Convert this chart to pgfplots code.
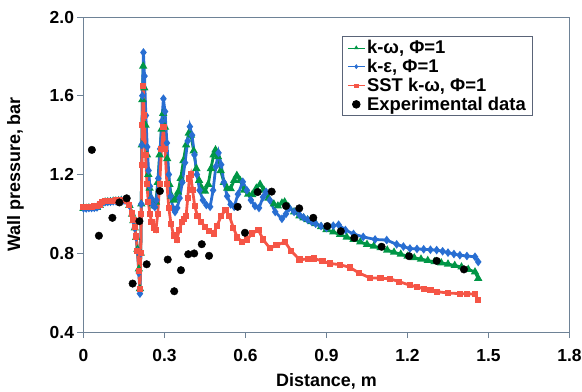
\documentclass[border=0pt]{standalone}
\usepackage{pgfplots}
\pgfplotsset{compat=1.18}
\usepackage{fontspec}
\setmainfont{Liberation Sans}
\definecolor{kwgreen}{RGB}{0,150,70}
\definecolor{kebblue}{RGB}{40,110,210}
\definecolor{sstred}{RGB}{245,85,70}
\definecolor{axc}{RGB}{110,130,150}
\definecolor{legc}{RGB}{90,100,120}
\begin{document}
\begin{tikzpicture}
\path[use as bounding box] (-83.5bp,-60bp) rectangle (498.5bp,332bp);
\begin{axis}[
  at={(0,0)}, anchor=south west, scale only axis,
  width=486bp, height=315bp,
  xmin=0, xmax=1.8, ymin=0.4, ymax=2.0,
  xtick={0,0.3,0.6,0.9,1.2,1.5,1.8},
  xticklabels={0,0.3,0.6,0.9,1.2,1.5,1.8},
  ytick={0.4,0.8,1.2,1.6,2.0},
  yticklabels={0.4,0.8,1.2,1.6,2.0},
  tick pos=left, tick align=outside, major tick length=6bp,
  axis line style={draw=axc, line width=0.9pt},
  tick style={draw=axc, line width=0.9pt},
  ticklabel style={font=\bfseries\fontsize{17.5}{17.5}\selectfont},
  xticklabel style={yshift=-8bp},
  xlabel={Distance, m}, ylabel={Wall pressure, bar},
  label style={font=\bfseries\fontsize{18}{18}\selectfont},
  xlabel style={at={(axis description cs:0.5,-0.1556)}, anchor=center},
  ylabel style={at={(axis description cs:-0.14,0.5)}, anchor=center},
  legend style={at={(axis description cs:0.532,0.9397)}, anchor=north west,
    draw=legc, line width=0.9pt, fill=white, inner xsep=5pt, inner ysep=2pt,
    font=\bfseries\fontsize{18.5}{18.5}\selectfont, row sep=0pt,
    /tikz/every even column/.append style={column sep=2pt}},
  legend cell align=left,
]
\addplot[kwgreen, line width=2.8pt, mark=triangle*, mark size=2.1pt,
  legend image post style={line width=0.6pt, mark size=2pt}] coordinates {
(0.000,1.028) (0.010,1.028) (0.020,1.030) (0.030,1.030) (0.040,1.031) (0.050,1.033)
(0.060,1.043) (0.070,1.056) (0.080,1.060) (0.090,1.061) (0.100,1.062) (0.110,1.064)
(0.120,1.065) (0.130,1.066) (0.140,1.068) (0.150,1.068) (0.160,1.063) (0.170,1.043)
(0.180,0.998) (0.185,0.966) (0.190,0.928) (0.195,0.880) (0.200,0.820) (0.205,0.720)
(0.209,0.620) (0.212,0.800) (0.214,1.050) (0.216,1.350) (0.218,1.580) (0.221,1.750)
(0.225,1.640) (0.230,1.450) (0.235,1.300) (0.240,1.200) (0.245,1.130) (0.250,1.080)
(0.256,1.050) (0.262,1.040) (0.268,1.060) (0.275,1.160) (0.282,1.300) (0.289,1.430)
(0.295,1.510) (0.302,1.440) (0.310,1.280) (0.318,1.150) (0.326,1.090) (0.334,1.070)
(0.342,1.080) (0.350,1.110) (0.360,1.180) (0.370,1.270) (0.380,1.350) (0.390,1.410)
(0.398,1.400) (0.408,1.320) (0.418,1.230) (0.428,1.170) (0.438,1.130) (0.450,1.115)
(0.462,1.150) (0.472,1.230) (0.482,1.300) (0.489,1.325) (0.498,1.290) (0.508,1.220)
(0.520,1.160) (0.532,1.130) (0.545,1.128) (0.558,1.170) (0.568,1.195) (0.580,1.170)
(0.595,1.120) (0.610,1.100) (0.625,1.098) (0.640,1.130) (0.654,1.150) (0.668,1.120)
(0.685,1.080) (0.705,1.050) (0.720,1.040) (0.735,1.055) (0.745,1.060) (0.760,1.035)
(0.780,1.010) (0.800,0.990) (0.815,0.980) (0.830,0.970) (0.845,0.960) (0.860,0.950)
(0.880,0.935) (0.900,0.920) (0.925,0.908) (0.950,0.895) (0.975,0.882) (1.000,0.870)
(1.025,0.857) (1.050,0.845) (1.075,0.836) (1.100,0.828) (1.125,0.816) (1.150,0.805)
(1.175,0.795) (1.200,0.785) (1.225,0.777) (1.250,0.770) (1.275,0.763) (1.300,0.757)
(1.325,0.751) (1.350,0.745) (1.375,0.738) (1.400,0.730) (1.425,0.718) (1.450,0.705)
(1.462,0.672)
};
\addlegendentry{k-ω, Φ=1}
\addplot[kebblue, line width=2.8pt, mark=diamond*, mark size=2.1pt,
  legend image post style={line width=0.6pt, mark size=2pt}] coordinates {
(0.000,1.028) (0.010,1.028) (0.020,1.030) (0.030,1.030) (0.040,1.031) (0.050,1.033)
(0.060,1.043) (0.070,1.056) (0.080,1.060) (0.090,1.061) (0.100,1.062) (0.110,1.064)
(0.120,1.065) (0.130,1.066) (0.140,1.068) (0.150,1.068) (0.160,1.063) (0.170,1.043)
(0.180,0.998) (0.185,0.966) (0.190,0.928) (0.195,0.880) (0.200,0.810) (0.205,0.700)
(0.209,0.595) (0.212,0.800) (0.214,1.050) (0.216,1.350) (0.218,1.600) (0.222,1.820)
(0.226,1.700) (0.231,1.500) (0.236,1.340) (0.241,1.220) (0.246,1.140) (0.251,1.080)
(0.257,1.045) (0.264,1.035) (0.270,1.070) (0.277,1.180) (0.284,1.330) (0.290,1.470)
(0.296,1.585) (0.302,1.520) (0.309,1.360) (0.316,1.200) (0.323,1.090) (0.331,1.030)
(0.339,1.010) (0.347,1.030) (0.356,1.080) (0.366,1.160) (0.376,1.260) (0.386,1.370)
(0.394,1.443) (0.402,1.400) (0.411,1.300) (0.420,1.200) (0.430,1.120) (0.442,1.070)
(0.455,1.045) (0.469,1.036) (0.480,1.120) (0.490,1.240) (0.500,1.310) (0.510,1.250)
(0.520,1.160) (0.532,1.090) (0.545,1.048) (0.558,1.036) (0.572,1.100) (0.590,1.163)
(0.605,1.120) (0.620,1.070) (0.635,1.040) (0.650,1.030) (0.665,1.085) (0.676,1.112)
(0.690,1.070) (0.710,1.010) (0.735,0.975) (0.750,1.000) (0.762,1.030) (0.780,1.010)
(0.800,0.995) (0.815,0.982) (0.830,0.970) (0.845,0.960) (0.860,0.950) (0.880,0.938)
(0.900,0.928) (0.925,0.940) (0.945,0.945) (0.970,0.918) (1.000,0.898) (1.036,0.883)
(1.080,0.870) (1.123,0.867) (1.160,0.845) (1.185,0.834) (1.209,0.824) (1.235,0.822)
(1.260,0.820) (1.285,0.818) (1.308,0.816) (1.330,0.810) (1.350,0.803) (1.372,0.796)
(1.394,0.790) (1.420,0.786) (1.450,0.782) (1.462,0.756)
};
\addlegendentry{k-ε, Φ=1}
\addplot[sstred, line width=2.8pt, mark=square*, mark size=1.7pt,
  legend image post style={line width=0.6pt, mark size=1.6pt}] coordinates {
(0.000,1.035) (0.010,1.035) (0.020,1.036) (0.030,1.037) (0.040,1.038) (0.050,1.040)
(0.060,1.048) (0.070,1.060) (0.080,1.064) (0.090,1.065) (0.100,1.066) (0.110,1.067)
(0.120,1.068) (0.130,1.069) (0.140,1.071) (0.150,1.072) (0.160,1.067) (0.170,1.047)
(0.180,1.002) (0.185,0.970) (0.190,0.932) (0.195,0.885) (0.200,0.810) (0.205,0.710)
(0.209,0.620) (0.212,0.800) (0.214,1.000) (0.216,1.250) (0.218,1.450) (0.221,1.650)
(0.225,1.500) (0.230,1.300) (0.235,1.150) (0.240,1.060) (0.246,1.000) (0.252,0.960)
(0.260,0.930) (0.268,0.917) (0.275,1.000) (0.282,1.150) (0.289,1.330) (0.296,1.440)
(0.302,1.330) (0.309,1.150) (0.316,1.030) (0.324,0.950) (0.334,0.890) (0.345,0.867)
(0.355,0.920) (0.365,0.960) (0.372,0.975) (0.380,0.990) (0.386,1.080) (0.392,1.180)
(0.397,1.200) (0.404,1.120) (0.412,1.040) (0.422,0.990) (0.435,0.960) (0.450,0.935)
(0.465,0.912) (0.482,0.900) (0.495,0.940) (0.510,0.990) (0.526,1.020) (0.540,0.990)
(0.555,0.930) (0.570,0.880) (0.588,0.858) (0.605,0.870) (0.625,0.900) (0.648,0.918)
(0.665,0.870) (0.690,0.826) (0.715,0.840) (0.746,0.858) (0.770,0.810) (0.800,0.768)
(0.830,0.770) (0.855,0.773) (0.885,0.760) (0.913,0.748) (0.950,0.742) (0.987,0.728)
(1.020,0.700) (1.061,0.675) (1.100,0.673) (1.135,0.670) (1.170,0.655) (1.209,0.638)
(1.235,0.629) (1.260,0.620) (1.285,0.612) (1.308,0.605) (1.350,0.598) (1.394,0.595)
(1.420,0.594) (1.450,0.593) (1.462,0.561)
};
\addlegendentry{SST k-ω, Φ=1}
\addplot[only marks, mark=*, mark size=3.8pt, black] coordinates {
(0.031,1.325) (0.057,0.889) (0.107,0.980) (0.133,1.058) (0.160,1.079) (0.182,0.646)
(0.207,0.963) (0.234,0.744) (0.283,1.116) (0.312,0.768) (0.336,0.607) (0.361,0.714)
(0.388,0.795) (0.410,0.799) (0.438,0.846) (0.465,0.787) (0.571,1.036) (0.598,0.904)
(0.645,1.111) (0.697,1.113) (0.750,1.040) (0.799,1.028) (0.851,0.980) (0.903,0.938)
(0.953,0.912) (1.003,0.878) (1.104,0.833) (1.206,0.785) (1.308,0.761) (1.409,0.718)
};
\addlegendentry{Experimental data}
\end{axis}
\end{tikzpicture}
\end{document}
